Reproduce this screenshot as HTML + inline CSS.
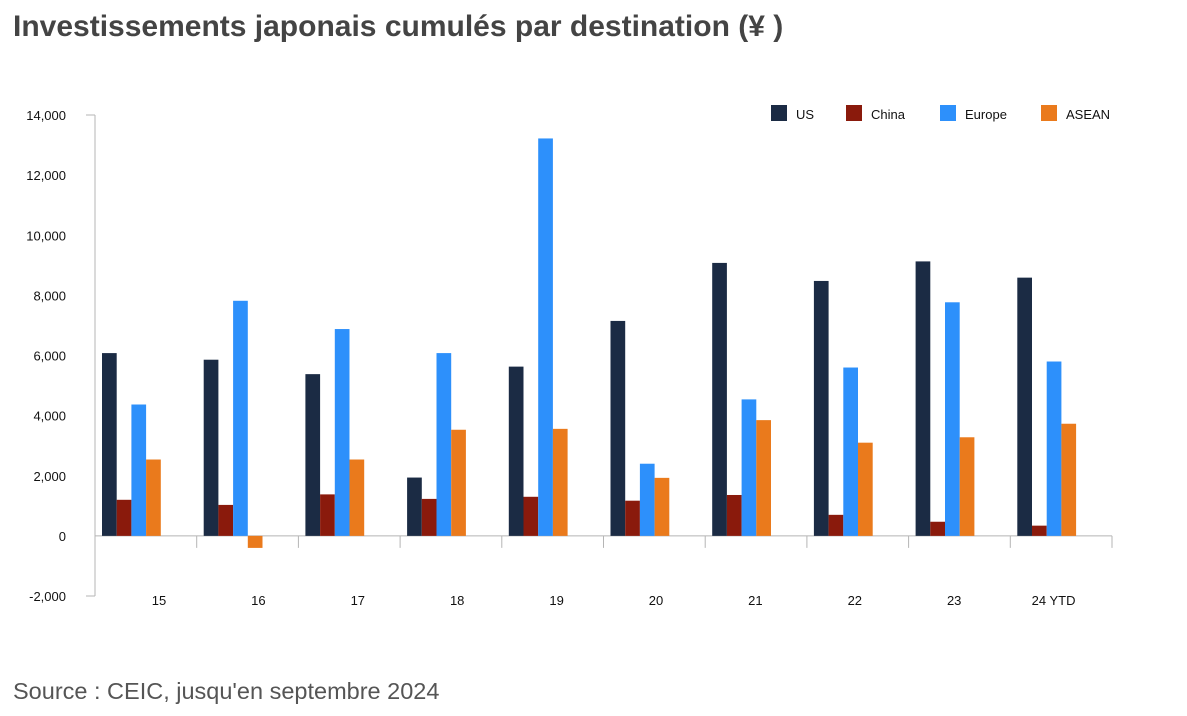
<!DOCTYPE html>
<html><head><meta charset="utf-8"><style>
body{margin:0;background:#fff;font-family:"Liberation Sans",sans-serif;}
#wrap{position:relative;width:1187px;height:716px;overflow:hidden;}
.title{position:absolute;left:13px;top:10px;font-size:30px;font-weight:bold;color:#444;}
.source{position:absolute;left:13px;top:678px;font-size:23.5px;color:#555;}
</style></head><body>
<div id="wrap">
<div class="title">Investissements japonais cumulés par destination (¥ )</div>
<svg id="chart" width="1187" height="716" style="position:absolute;left:0;top:0"></svg>
<div class="source">Source : CEIC, jusqu'en septembre 2024</div>
</div>
<script>
const categories=["15","16","17","18","19","20","21","22","23","24 YTD"];
const seriesNames=["US","China","Europe","ASEAN"];
const usValues=[6080,5860,5380,1940,5630,7150,9080,8480,9130,8590];
const chinaValues=[1200,1030,1380,1230,1300,1170,1360,700,470,340];
const europeValues=[4370,7820,6880,6080,13220,2400,4540,5600,7770,5800];
const aseanValues=[2540,-400,2540,3530,3560,1930,3850,3100,3280,3730];
const yTicks=[-2000,0,2000,4000,6000,8000,10000,12000,14000];
const colors=["#1b2b44","#8a1a0c","#2d90fb","#ea7a1c"];
const all=[usValues,chinaValues,europeValues,aseanValues];
const svg=document.getElementById('chart');
const NS="http://www.w3.org/2000/svg";
const x0=95,x1=1112,yTop=115,yBot=596,vMin=-2000,vMax=14000;
const y=v=>yBot-(v-vMin)/(vMax-vMin)*(yBot-yTop);
const bw=(x1-x0)/categories.length;
function mk(t,a){const e=document.createElementNS(NS,t);for(const k in a)e.setAttribute(k,a[k]);svg.appendChild(e);return e;}
let e;
e=mk('line',{x1:x0,x2:x0,y1:yTop,y2:yBot,stroke:'#b5b5b5','stroke-width':1});


e=mk('line',{x1:x0,x2:x1,y1:y(0),y2:y(0),stroke:'#b5b5b5','stroke-width':1});


[yTop,yBot].forEach(yy=>{e=mk('line',{x1:x0-9,x2:x0,y1:yy,y2:yy,stroke:'#b5b5b5'});

});
yTicks.forEach(v=>{e=mk('text',{x:66,y:y(v)+5,'text-anchor':'end','font-size':13,fill:'#111'});e.textContent=v.toLocaleString('en-US');

});
for(let i=1;i<=categories.length;i++){const xx=x0+i*bw;e=mk('line',{x1:xx,x2:xx,y1:y(0),y2:y(0)+12,stroke:'#b5b5b5'});

}
categories.forEach((c,i)=>{
  const gx=x0+i*bw+7;
  all.forEach((arr,s)=>{const v=arr[i];const bx=gx+s*14.7;
    e=mk('rect',{x:bx,y:Math.min(y(v),y(0)),width:14.7,height:Math.abs(y(v)-y(0)),fill:colors[s]});
    
    });
  e=mk('text',{x:x0+i*bw+64-i*2.3,y:605,'text-anchor':'middle','font-size':13,fill:'#111'});e.textContent=c;
  
  
});
const lx=[771,846,940,1041];
seriesNames.forEach((n,s)=>{
  e=mk('rect',{x:lx[s],y:105,width:16,height:16,fill:colors[s]});
  
  
  e=mk('text',{x:lx[s]+25,y:119,'font-size':13,fill:'#111'});e.textContent=n;
  
  
});
</script>
</body></html>
